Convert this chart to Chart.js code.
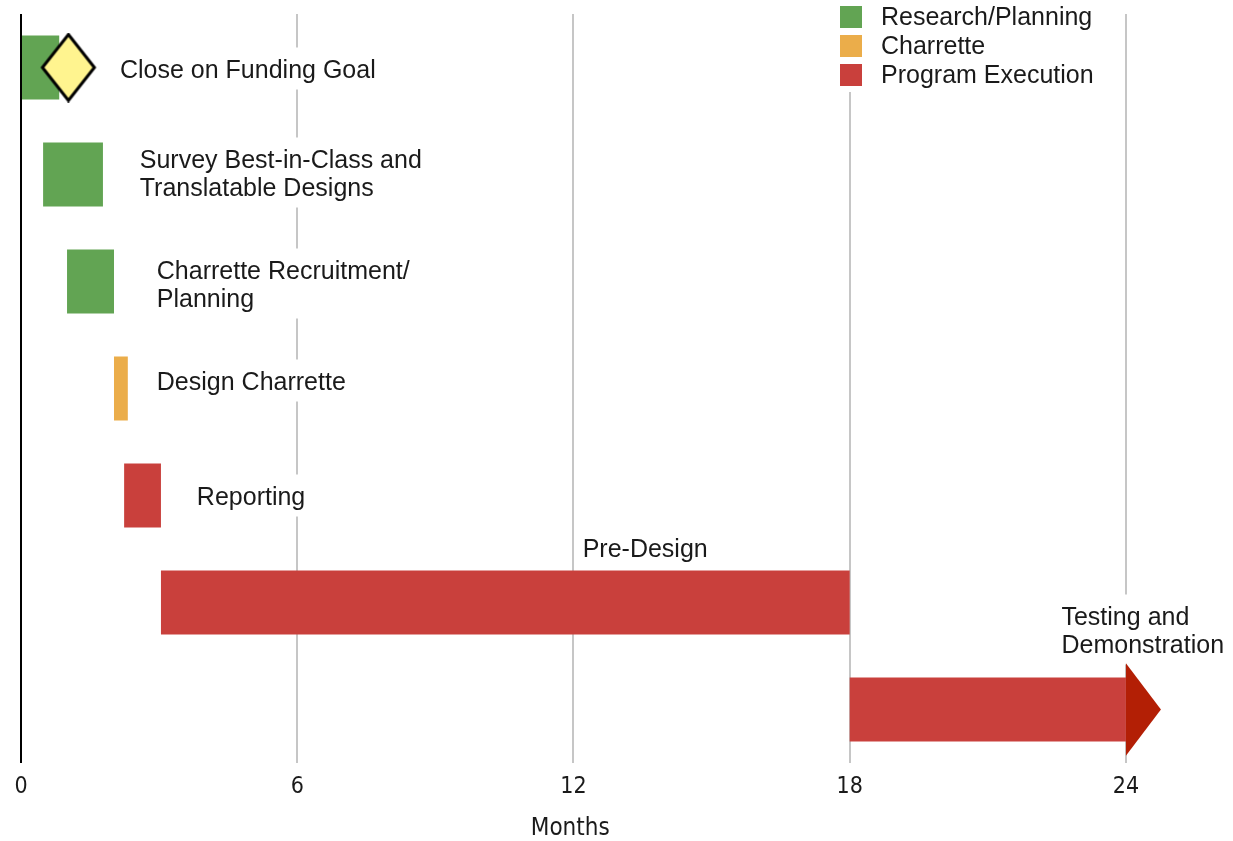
<!DOCTYPE html>
<html>
<head>
<meta charset="utf-8">
<script src="https://cdn.jsdelivr.net/npm/chart.js@4.4.0/dist/chart.umd.min.js"></script>
<style>
  body { margin: 0; background: #fff; }
  #wrap { width: 1233px; height: 841px; }
</style>
</head>
<body>
<div id="wrap"><canvas id="gantt" width="1233" height="841"></canvas></div>
<script>
// tasks, top to bottom
let tasks = ['Close on Funding Goal', 'Survey Best-in-Class and Translatable Designs', 'Charrette Recruitment/Planning',
  'Design Charrette', 'Reporting', 'Pre-Design', 'Testing and Demonstration'];
let starts = [0, 0.48, 1.0, 2.02, 2.24, 3.04, 18];
let ends = [0.83, 1.78, 2.02, 2.32, 3.04, 18, 24];
let taskPhase = [0, 0, 0, 1, 2, 2, 2];
let openEnded = [false, false, false, false, false, false, true];

let phaseNames = ['Research/Planning', 'Charrette', 'Program Execution'];
let phaseColors = ['#62a453', '#ebad4a', '#c9403c'];

let milestoneX = [1.03];
let milestoneTask = ['Close on Funding Goal'];

let xTicks = [0, 6, 12, 18, 24];
let xTitle = 'Months';

// label text as wrapped in the picture, plus where it sits (month it starts at, pixel shift of baseline from bar centre)
let labelLines = [['Close on Funding Goal'], ['Survey Best-in-Class and', 'Translatable Designs'],
  ['Charrette Recruitment/', 'Planning'], ['Design Charrette'], ['Reporting'], ['Pre-Design'],
  ['Testing and', 'Demonstration']];
let labelAt = [2.15, 2.58, 2.95, 2.95, 3.82, 12.2, 22.6];
let labelDy = [10, -7, -3, 1, 9, -46, -85];

const LABEL_FONT = '25px "Liberation Sans", Arial, sans-serif';
const NARROW = '"Liberation Sans Narrow", "DejaVu Sans Condensed", sans-serif';

// milestone diamond drawn once into a small canvas, used as point style
let diamond = document.createElement('canvas');
diamond.width = 58; diamond.height = 70;
let dc = diamond.getContext('2d');
dc.beginPath();
dc.moveTo(29, 2); dc.lineTo(55, 35); dc.lineTo(29, 68); dc.lineTo(3, 35); dc.closePath();
dc.fillStyle = '#fff48f';
dc.fill();
dc.lineWidth = 3;
dc.strokeStyle = '#000';
dc.stroke();

let ganttExtras = {
  id: 'ganttExtras',
  afterDatasetsDraw(chart) {
    let ctx = chart.ctx;
    let x = chart.scales.x;
    let meta = chart.getDatasetMeta(1);
    ctx.save();
    ctx.font = LABEL_FONT;
    ctx.textBaseline = 'alphabetic';
    // task labels on white boxes (they break the grid lines)
    labelLines.forEach((lines, i) => {
      let bar = meta.data[i];
      let lx = x.getPixelForValue(labelAt[i]);
      let base = bar.y + labelDy[i];
      let w = Math.max(...lines.map(l => ctx.measureText(l).width));
      ctx.fillStyle = '#fff';
      ctx.fillRect(lx - 6, base - 9 - 21, w + 12, (lines.length - 1) * 28 + 42);
      ctx.fillStyle = '#1a1a1a';
      lines.forEach((l, k) => ctx.fillText(l, lx, base + k * 28));
    });
    // arrow heads for open ended tasks
    openEnded.forEach((open, i) => {
      if (!open) return;
      let bar = meta.data[i];
      let half = bar.height * 0.72;
      ctx.beginPath();
      ctx.moveTo(bar.x, bar.y - half);
      ctx.lineTo(bar.x + 35, bar.y);
      ctx.lineTo(bar.x, bar.y + half);
      ctx.closePath();
      ctx.fillStyle = '#b31f05';
      ctx.fill();
    });
    ctx.restore();
  },
  afterDraw(chart) {
    let ctx = chart.ctx;
    let x = chart.scales.x;
    ctx.save();
    // axis title
    ctx.font = '24px ' + NARROW;
    ctx.fillStyle = '#1a1a1a';
    ctx.textAlign = 'center';
    ctx.textBaseline = 'middle';
    ctx.fillText(xTitle, x.getPixelForValue(11.93), 829);
    // legend
    ctx.textAlign = 'left';
    ctx.fillStyle = '#fff';
    ctx.fillRect(834, 0, 270, 92);
    ctx.font = LABEL_FONT;
    phaseNames.forEach((name, i) => {
      ctx.fillStyle = phaseColors[i];
      ctx.fillRect(840, 6 + i * 29, 22, 22);
      ctx.fillStyle = '#1a1a1a';
      ctx.fillText(name, 881, 18 + i * 29);
    });
    ctx.restore();
  }
};

let chart = new Chart(document.getElementById('gantt').getContext('2d'), {
  type: 'bar',
  data: {
    labels: tasks,
    datasets: [
      {
        type: 'scatter',
        data: milestoneX.map((m, i) => ({x: m, y: milestoneTask[i]})),
        pointStyle: diamond,
        order: 1
      },
      {
        data: starts.map((s, i) => [s, ends[i]]),
        backgroundColor: taskPhase.map(p => phaseColors[p]),
        barPercentage: 0.6,
        categoryPercentage: 1,
        borderWidth: 0,
        order: 2
      }
    ]
  },
  options: {
    indexAxis: 'y',
    responsive: false,
    animation: false,
    layout: { padding: { left: 21, right: 15, top: 14, bottom: 29 } },
    plugins: {
      legend: { display: false },
      tooltip: { enabled: false }
    },
    scales: {
      x: {
        type: 'linear',
        min: 0,
        max: 26,
        afterBuildTicks: (scale) => { scale.ticks = xTicks.map(v => ({value: v})); },
        border: { display: false },
        grid: {
          drawTicks: false,
          lineWidth: 2,
          color: (c) => c.tick && c.tick.value === 0 ? '#000' : '#c6c6c6'
        },
        ticks: {
          padding: 13,
          color: '#1a1a1a',
          font: { family: NARROW, size: 23, lineHeight: 1 }
        }
      },
      y: {
        type: 'category',
        display: false
      }
    }
  },
  plugins: [ganttExtras]
});
</script>
</body>
</html>
